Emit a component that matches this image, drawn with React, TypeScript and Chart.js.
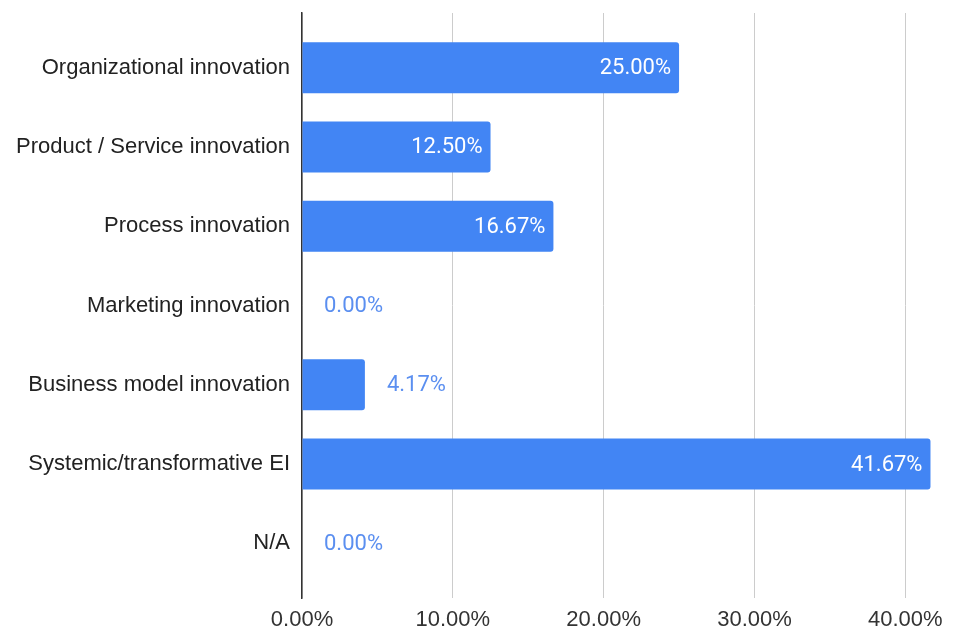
import React, { useEffect, useRef } from "react";
import { Chart, registerables } from "chart.js";

Chart.register(...registerables);

const categories = [
  "Organizational innovation",
  "Product / Service innovation",
  "Process innovation",
  "Marketing innovation",
  "Business model innovation",
  "Systemic/transformative EI",
  "N/A",
];
const values = [0.25, 0.125, 0.1667, 0, 0.0417, 0.4167, 0];
const xTicks = [0, 0.1, 0.2, 0.3, 0.4];

const BAR = "#4285f4";
const fmt = (v: number) => (v * 100).toFixed(2) + "%";

const labelPlugin = {
  id: "valueLabels",
  afterDatasetsDraw(chart: any) {
    const ctx = chart.ctx;
    const meta = chart.getDatasetMeta(0);
    ctx.save();
    ctx.font = "22px Roboto";
    ctx.textBaseline = "middle";
    meta.data.forEach((bar: any, i: number) => {
      const text = fmt(values[i]);
      const w = ctx.measureText(text).width;
      const barW = bar.x - bar.base;
      if (barW > w + 16) {
        ctx.fillStyle = "#ffffff";
        ctx.textAlign = "right";
        ctx.fillText(text, bar.x - 8, bar.y + 1);
      } else {
        ctx.fillStyle = "#5b8ff0";
        ctx.textAlign = "left";
        ctx.fillText(text, bar.x + 22, bar.y + 1);
      }
    });
    ctx.restore();
  },
};

export default function App() {
  const ref = useRef<HTMLCanvasElement>(null);
  useEffect(() => {
    if (!ref.current) return;
    const chart = new Chart(ref.current, {
      type: "bar",
      data: {
        datasets: [
          {
            data: values.map((v, i) => ({ x: v, y: i })),
            backgroundColor: BAR,
            borderRadius: 3,
            borderSkipped: "start",
            barPercentage: 0.645,
            categoryPercentage: 1,
          },
        ],
      },
      plugins: [labelPlugin],
      options: {
        indexAxis: "y",
        animation: false,
        responsive: true,
        maintainAspectRatio: false,
        layout: { padding: { top: 13, right: 11, left: 0, bottom: 0 } },
        plugins: { legend: { display: false }, tooltip: { enabled: false } },
        scales: {
          x: {
            type: "linear",
            min: 0,
            max: 0.425,
            afterBuildTicks: (s: any) => {
              s.ticks = xTicks.map((v) => ({ value: v }));
            },
            afterFit: (s: any) => {
              s.height = 33;
              s.paddingLeft = 0;
              s.paddingRight = 0;
            },
            grid: { color: "#cccccc", lineWidth: 1, drawTicks: false },
            border: { display: false },
            ticks: {
              callback: (v: any) => fmt(Number(v)),
              color: "#333333",
              font: { family: "Liberation Sans, Arial", size: 22 },
              padding: 9,
              maxRotation: 0,
            },
          },
          y: {
            type: "linear",
            reverse: true,
            offset: false,
            min: -0.69,
            max: 6.69,
            afterBuildTicks: (s: any) => {
              s.ticks = categories.map((_, i) => ({ value: i }));
            },
            afterFit: (s: any) => {
              s.width = 302;
              s.paddingTop = 0;
              s.paddingBottom = 0;
            },
            grid: { display: false, drawTicks: false, offset: false },
            border: { display: true, color: "#333333", width: 1.5 },
            ticks: {
              callback: (v: any) => categories[Number(v)] ?? "",
              color: "#222222",
              font: { family: "Liberation Sans, Arial", size: 22 },
              padding: 12,
            },
          },
        },
      },
    });
    return () => chart.destroy();
  }, []);
  return (
    <div style={{ position: "fixed", left: 0, top: 0, width: 954, height: 631 }}>
      <canvas ref={ref} />
    </div>
  );
}
